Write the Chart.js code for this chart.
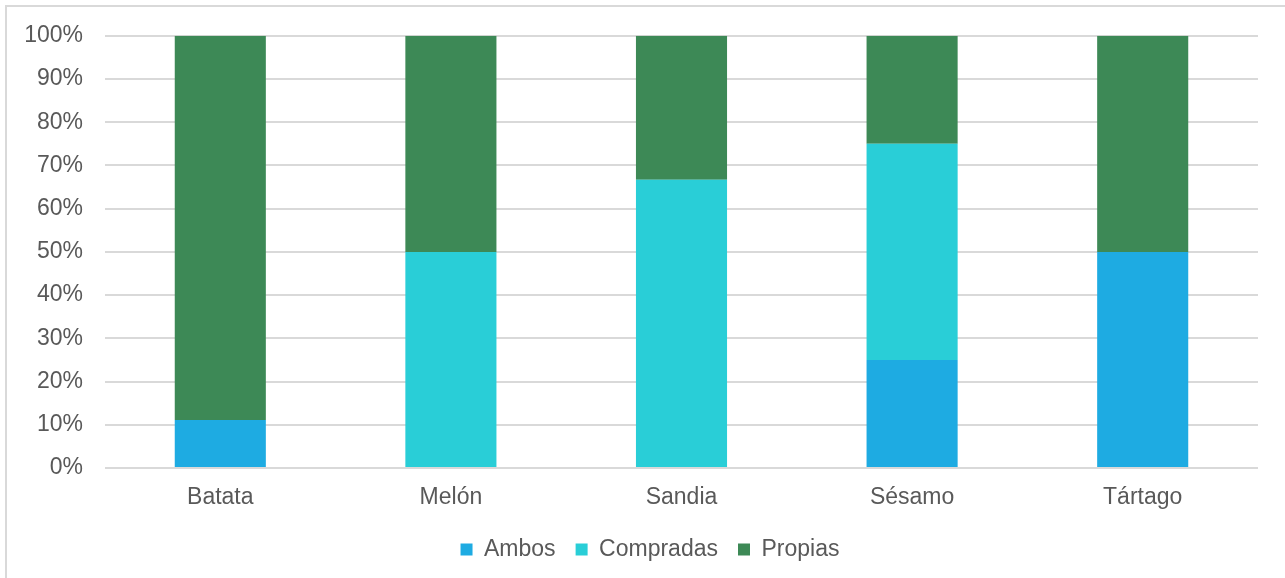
<!DOCTYPE html>
<html>
<head>
<meta charset="utf-8">
<script src="https://cdn.jsdelivr.net/npm/chart.js@4/dist/chart.umd.min.js"></script>
<style>
    html, body { margin: 0; padding: 0; background: #fff; }
    #wrap { position: absolute; left: 0; top: 0; width: 1285px; height: 578px; }
    #frame { position: absolute; left: 5px; top: 5px; width: 1300px; height: 600px;
             border: 2px solid #d9d9d9; pointer-events: none; }
</style>
</head>
<body>
<div id="wrap"><canvas id="chart"></canvas></div>
<div id="frame"></div>
<script>
// Cultivos y origen de la semilla (%)
const categorias = ['Batata', 'Melón', 'Sandia', 'Sésamo', 'Tártago'];
const ambos = [11.1, 0, 0, 25, 50];
const compradas = [0, 50, 66.7, 50, 0];
const propias = [88.9, 50, 33.3, 25, 50];
const ticksY = [0, 10, 20, 30, 40, 50, 60, 70, 80, 90, 100];

const colores = {
    ambos: '#1eabe2',
    compradas: '#29ced7',
    propias: '#3d8956'
};

const fuente = { family: "'Liberation Sans', Arial, sans-serif", size: 23 };
const gris = '#595959';

// la leyenda va centrada sobre todo el marco, no solo sobre el área del gráfico
const desplazarLeyenda = {
    id: 'desplazarLeyenda',
    afterLayout(chart) {
        chart.legend.left += 21;
        chart.legend.right += 21;
    }
};

new Chart(document.getElementById('chart'), {
    type: 'bar',
    data: {
        labels: categorias,
        datasets: [
            { label: 'Ambos', data: ambos, backgroundColor: colores.ambos },
            { label: 'Compradas', data: compradas, backgroundColor: colores.compradas },
            { label: 'Propias', data: propias, backgroundColor: colores.propias }
        ]
    },
    plugins: [desplazarLeyenda],
    options: {
        responsive: true,
        maintainAspectRatio: false,
        animation: false,
        layout: { padding: { left: 0, right: 27, top: 24, bottom: 7 } },
        datasets: { bar: { categoryPercentage: 1, barPercentage: 0.395 } },
        plugins: {
            tooltip: { enabled: false },
            legend: {
                position: 'bottom',
                labels: {
                    boxWidth: 12,
                    boxHeight: 12,
                    padding: 20,
                    color: gris,
                    font: fuente
                }
            }
        },
        scales: {
            x: {
                stacked: true,
                afterFit: (scale) => { scale.height = 50; },
                grid: { display: false },
                border: { display: false },
                ticks: { color: gris, font: fuente, padding: 8 }
            },
            y: {
                stacked: true,
                min: 0,
                max: 100,
                afterFit: (scale) => { scale.width = 105; },
                afterBuildTicks: (scale) => {
                    scale.ticks = ticksY.map(v => ({ value: v }));
                },
                grid: { color: '#d9d9d9', lineWidth: 2, drawTicks: false },
                border: { display: false },
                ticks: {
                    color: gris,
                    font: fuente,
                    padding: 22,
                    callback: (v) => v + '%'
                }
            }
        }
    }
});
</script>
</body>
</html>
